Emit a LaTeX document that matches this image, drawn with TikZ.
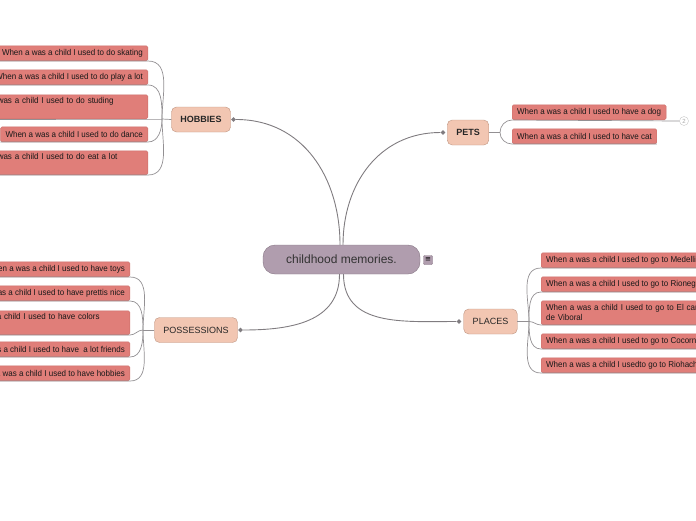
\documentclass[tikz,border=0pt]{standalone}
\usepackage{fontspec}
\setmainfont{Liberation Sans}
\newfontfamily\leaffont[FakeStretch=0.94]{Liberation Sans}
\newfontfamily\symfont{DejaVu Sans}
\usetikzlibrary{shapes.geometric, positioning}
\definecolor{memfill}{RGB}{176, 157, 174}
\definecolor{memline}{RGB}{135, 118, 133}
\definecolor{topicfill}{RGB}{242, 198, 178}
\definecolor{topicline}{RGB}{190, 148, 128}
\definecolor{leaffill}{RGB}{224, 126, 121}
\definecolor{leafline}{RGB}{204, 110, 106}
\definecolor{branchgrey}{RGB}{128, 124, 128}
\tikzset{
  branch/.style={draw=branchgrey, line width=0.9pt},
  twig/.style={draw=branchgrey!85, line width=0.7pt},
  knob/.style={diamond, fill=branchgrey, inner sep=0pt, minimum size=5pt}
}

\begin{document}
\begin{tikzpicture}[x=1pt, y=-1pt,
    centernode/.style={draw=memline, fill=memfill, rounded corners=12pt, minimum width=157pt, minimum height=29pt, font=\fontsize{12}{14}\selectfont, text=black!80},
    topicnode/.style={draw=topicline, fill=topicfill, rounded corners=5pt, minimum height=25pt, inner xsep=9pt, font=\fontsize{9}{11}\selectfont\bfseries, text=black!85},
    leafnode/.style={draw=leafline, fill=leaffill, rounded corners=1.5pt, minimum height=15pt, inner xsep=5pt, inner ysep=2pt, font=\fontsize{8.5}{10}\leaffont, text=black!90},
    longleaf/.style={leafnode, text width=176pt, align=left, minimum height=24pt}]

    % page frame
    \clip (0,0) rectangle (696,520);

    % Central idea
    \node[centernode] (mem) at (341.5,259.5) {childhood memories.};
    \node[fill=memfill, draw=memline, rounded corners=1pt, minimum size=9pt, inner sep=0pt, font=\fontsize{7}{7}\selectfont\symfont] (memnote) at (428,260) {≡};

    % Topics
    \node[topicnode] (hob) at (201,119.5) {HOBBIES};
    \node[topicnode] (pet) at (468,132.5) {PETS};
    \node[topicnode, font=\fontsize{9}{11}\selectfont] (pos) at (196,330) {POSSESSIONS};
    \node[topicnode, font=\fontsize{9}{11}\selectfont] (pla) at (490.5,321.5) {PLACES};

    \node[knob] (hobknob) at (233.5,119.5) {};
    \node[knob] (petknob) at (443,132.5) {};
    \node[knob] (posknob) at (240.5,330) {};
    \node[knob] (plaknob) at (459,321.5) {};

    % Topic branches
    \draw[branch] (hobknob) to[out=0, in=90, looseness=1.05] ([xshift=-1.5pt]mem.north);
    \draw[branch] (petknob) to[out=180, in=90, looseness=1.05] ([xshift=1.5pt]mem.north);
    \draw[branch] (posknob) to[out=0, in=-90, looseness=1.1] ([xshift=-2pt]mem.south);
    \draw[branch] (plaknob) to[out=180, in=-90, looseness=1.1] ([xshift=2pt]mem.south);

    % Hobbies
    \node[leafnode, anchor=south east] (hob1) at (148,61) {When a was a child I used to do skating};
    \node[leafnode, anchor=south east] (hob2) at (148,85) {When a was a child I used to do play a lot};
    \node[longleaf, anchor=south east] (hob3) at (148,119) {When a was a child I used to do studing\\ \strut};
    \node[leafnode, anchor=south east] (hob4) at (148,142) {When a was a child I used to do dance};
    \node[longleaf, anchor=south east] (hob5) at (148,175) {When a was a child I used to do eat a lot\\ \strut};

    \coordinate (hobhub) at (162,119);
    \draw[twig] (hob.west) -- (hobhub);
    \draw[twig] (hobhub) to[out=90, in=0] (hob1.south east) -- (hob1.south west);
    \draw[twig] (hobhub) to[out=90, in=0] (hob2.south east) -- (hob2.south west);
    \draw[twig] (hobhub) -- (hob3.south east) -- (hob3.south west);
    \draw[twig] (hobhub) to[out=-90, in=0] (hob4.south east) -- (hob4.south west);
    \draw[twig] (hobhub) to[out=-90, in=0] (hob5.south east) -- (hob5.south west);

    % Possessions
    \node[leafnode, anchor=south east] (pos1) at (130,277) {When a was a child I used to have toys};
    \node[leafnode, anchor=south east] (pos2) at (130,301) {When a was a child I used to have prettis nice};
    \node[longleaf, anchor=south east] (pos3) at (130,335) {When a was a child I used to have colors\\ \strut};
    \node[leafnode, anchor=south east] (pos4) at (130,357) {When a was a child I used to have \ a lot friends};
    \node[leafnode, anchor=south east] (pos5) at (130,381) {When a was a child I used to have hobbies};

    \coordinate (poshub) at (143,330);
    \draw[twig] (pos.west) -- (poshub);
    \draw[twig] (poshub) to[out=90, in=0] (pos1.south east) -- (pos1.south west);
    \draw[twig] (poshub) to[out=90, in=0] (pos2.south east) -- (pos2.south west);
    \draw[twig] (poshub) to[out=180, in=0] (pos3.south east) -- (pos3.south west);
    \draw[twig] (poshub) to[out=-90, in=0] (pos4.south east) -- (pos4.south west);
    \draw[twig] (poshub) to[out=-90, in=0] (pos5.south east) -- (pos5.south west);

    % Pets
    \node[leafnode, anchor=south west] (pet1) at (512,120) {When a was a child I used to have a dog};
    \node[leafnode, anchor=south west] (pet2) at (512,144) {When a was a child I used to have cat};
    \node[circle, draw=gray!45, inner sep=0pt, minimum size=9pt, font=\fontsize{6}{6}\selectfont, text=gray!70] (petmore) at (684,121) {2};

    \coordinate (pethub) at (500,132.5);
    \draw[twig] (pet.east) -- (pethub);
    \draw[twig] (pethub) to[out=90, in=180] (pet1.south west) -- (petmore.west);
    \draw[twig] (pethub) to[out=-90, in=180] (pet2.south west) -- (pet2.south east);

    % Places
    \node[leafnode, anchor=south west] (pla1) at (541,268) {When a was a child I used to go to Medellin};
    \node[leafnode, anchor=south west] (pla2) at (541,292) {When a was a child I used to go to Rionegro};
    \node[longleaf, anchor=south west] (pla3) at (541,325) {When a was a child I used to go to El carmen\\ de Viboral};
    \node[leafnode, anchor=south west] (pla4) at (541,349) {When a was a child I used to go to Cocorna};
    \node[leafnode, anchor=south west] (pla5) at (541,373) {When a was a child I usedto go to Riohacha};

    \coordinate (plahub) at (529,321.5);
    \draw[twig] (pla.east) -- (plahub);
    \draw[twig] (plahub) to[out=90, in=180] (pla1.south west) -- (pla1.south east);
    \draw[twig] (plahub) to[out=90, in=180] (pla2.south west) -- (pla2.south east);
    \draw[twig] (plahub) to[out=0, in=180] (pla3.south west) -- (pla3.south east);
    \draw[twig] (plahub) to[out=-90, in=180] (pla4.south west) -- (pla4.south east);
    \draw[twig] (plahub) to[out=-90, in=180] (pla5.south west) -- (pla5.south east);

\end{tikzpicture}
\end{document}
